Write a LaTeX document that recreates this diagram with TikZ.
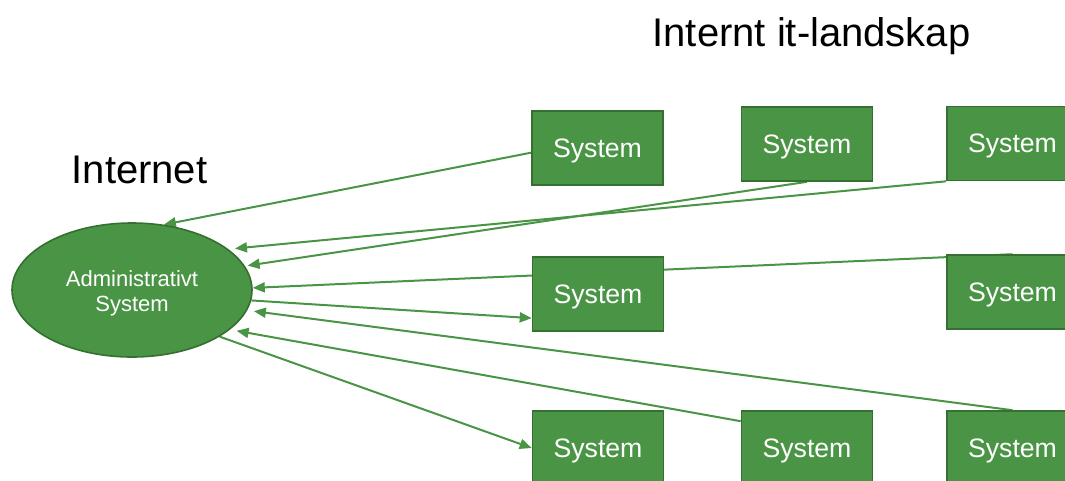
\documentclass[tikz,border=0pt]{standalone}
\usepackage{fontspec}
\setmainfont{Liberation Sans}
\usetikzlibrary{arrows.meta,shapes.geometric,backgrounds}
\definecolor{sysfill}{RGB}{74,148,69}
\definecolor{sysedge}{RGB}{52,112,47}
\definecolor{linkgreen}{RGB}{74,148,69}
\begin{document}
\begin{tikzpicture}[x=0.75pt,y=-0.75pt,
  sysbox/.style={draw=sysedge, fill=sysfill, line width=1.2pt,
    minimum width=98.25pt, minimum height=55.5pt, inner sep=0pt,
    text depth=0pt, text=white, font=\fontsize{20}{24}\selectfont},
  admnode/.style={ellipse, draw=sysedge, fill=sysfill, line width=1.2pt,
    minimum width=180pt, minimum height=100.5pt, inner sep=0pt},
  admtext/.style={text=white, align=center, inner sep=0pt,
    font=\fontsize{16.5}{20}\selectfont},
  link/.style={draw=linkgreen, line width=1.5pt,
    -{Triangle[length=9pt,width=7.5pt]}},
  heading/.style={anchor=base, inner sep=0pt, font=\fontsize{30}{36}\selectfont}]

\useasboundingbox (0,0) rectangle (1065,480);
\clip (0,0) rectangle (1065,480);

% headings
\node[heading] (title) at (811.5,46) {Internt it-landskap};
\node[heading] (inet) at (139.5,183) {Internet};

% central system
\node[admnode, label={[admtext, yshift=-2.5pt]center:{Administrativt\\[-1pt]System}}] (adm) at (132,290) {};

% internal systems
\node[sysbox] (b1) at (597.5,148) {System};
\node[sysbox] (b2) at (807,144) {System};
\node[sysbox] (b3) at (1012.5,143.5) {System};
\node[sysbox] (b4) at (598,294) {System};
\node[sysbox] (b5) at (1012.5,292) {System};
\node[sysbox] (b6) at (598,448) {System};
\node[sysbox] (b7) at (807,448) {System};
\node[sysbox] (b8) at (1012.5,448) {System};

% data flows, drawn behind the boxes
\begin{scope}[on background layer]
  \draw[link] (b1.184) -- (adm.64);
  \draw[link, shorten >=2pt] (b2.south) -- (adm.12);
  \draw[link, shorten >=5pt] (b3.south west) -- (adm.23);
  \draw[link] (b5.north) -- (adm.1);
  \draw[link] (adm.-5) -- (b4.200);
  \draw[link, shorten >=5pt] (b8.north) -- (adm.-10);
  \draw[link, shorten >=5pt] (b7.158) -- (adm.-22);
  \draw[link] (adm.-28) -- (b6.west);
\end{scope}
\end{tikzpicture}
\end{document}
